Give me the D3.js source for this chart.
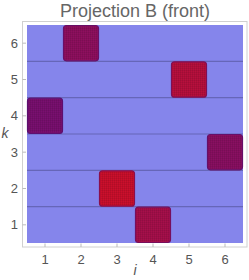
<!DOCTYPE html>
<html><head><meta charset="utf-8">
<script src="https://cdn.jsdelivr.net/npm/d3@7"></script>
<style>html,body{margin:0;padding:0;background:#fff;}svg{display:block;}</style>
</head><body>
<script>
const title = "Projection B (front)";
const iVals = [1, 2, 3, 4, 5, 6];
const kVals = [4, 6, 2, 1, 5, 3];
const shade = [0.0, 0.25, 1.0, 0.55, 0.75, 0.2];
const xTicks = [1, 2, 3, 4, 5, 6];
const yTicks = [1, 2, 3, 4, 5, 6];
const gridLines = [1.5, 2.5, 3.5, 4.5, 5.5];

const W = 249, H = 280;
const svg = d3.select("body").append("svg").attr("width", W).attr("height", H);
const x = d3.scaleLinear().domain([0.5, 6.5]).range([27, 243]);
const y = d3.scaleLinear().domain([0.5, 6.5]).range([243, 25]);
const col = d3.scaleLinear().domain([0, 1]).range(["#7a0f70", "#cc0f2c"]).interpolate(d3.interpolateRgb);

const defs = svg.append("defs");
const pat = defs.append("pattern").attr("id", "mesh").attr("width", 2).attr("height", 2).attr("patternUnits", "userSpaceOnUse");
pat.append("rect").attr("width", 1).attr("height", 2).attr("fill", "#000").attr("opacity", 0.08);
pat.append("rect").attr("width", 2).attr("height", 1).attr("fill", "#000").attr("opacity", 0.06);

const font = "Liberation Sans, Arial, sans-serif";
// title
svg.append("text").attr("x", 135).attr("y", 17).attr("text-anchor", "middle")
  .attr("font-family", font).attr("font-size", 18).attr("fill", "#666").text(title);

// frame
svg.append("rect").attr("x", 22.5).attr("y", 21.5).attr("width", 224.5).attr("height", 225.5)
  .attr("fill", "none").attr("stroke", "#d0d0d0").attr("stroke-width", 1);

// background
svg.append("rect").attr("x", x(0.5)).attr("y", y(6.5)).attr("width", x(6.5) - x(0.5)).attr("height", y(0.5) - y(6.5))
  .attr("fill", "#8585eb");

// grid lines
svg.selectAll("line.g").data(gridLines).enter().append("line")
  .attr("x1", x(0.5)).attr("x2", x(6.5)).attr("y1", d => y(d)).attr("y2", d => y(d))
  .attr("stroke", "#6666b8").attr("stroke-width", 1.2);

// squares
const data = iVals.map((v, idx) => ({i: v, k: kVals[idx], s: shade[idx]}));
const g = svg.append("g");
data.forEach(d => {
  const x0 = x(d.i - 0.5), x1 = x(d.i + 0.5), y0 = y(d.k + 0.5), y1 = y(d.k - 0.5);
  const c = col(d.s);
  g.append("rect").attr("x", x0 + 0.5).attr("y", y0 + 0.5).attr("width", x1 - x0 - 1).attr("height", y1 - y0 - 1)
    .attr("rx", 3).attr("fill", c).attr("stroke", d3.interpolateRgb(c, "#3a1070")(0.45)).attr("stroke-width", 1.2);
  g.append("rect").attr("x", x0 + 1.5).attr("y", y0 + 1.5).attr("width", x1 - x0 - 3).attr("height", y1 - y0 - 3)
    .attr("rx", 2).attr("fill", "url(#mesh)");
});

// ticks
svg.selectAll("line.xt").data(xTicks).enter().append("line")
  .attr("x1", d => x(d)).attr("x2", d => x(d)).attr("y1", 247).attr("y2", 243.5).attr("stroke", "#bbb");
svg.selectAll("line.yt").data(yTicks).enter().append("line")
  .attr("y1", d => y(d)).attr("y2", d => y(d)).attr("x1", 22.5).attr("x2", 26).attr("stroke", "#bbb");
svg.selectAll("text.xl").data(xTicks).enter().append("text")
  .attr("x", d => x(d)).attr("y", 264).attr("text-anchor", "middle")
  .attr("font-family", font).attr("font-size", 13).attr("fill", "#555").text(d => d);
svg.selectAll("text.yl").data(yTicks).enter().append("text")
  .attr("x", 18).attr("y", d => y(d) + 4.5).attr("text-anchor", "end")
  .attr("font-family", font).attr("font-size", 13).attr("fill", "#555").text(d => d);

// axis labels
svg.append("text").attr("x", 135).attr("y", 275).attr("text-anchor", "middle").attr("font-style", "italic")
  .attr("font-family", font).attr("font-size", 14).attr("fill", "#555").text("i");
svg.append("text").attr("x", 5).attr("y", 138).attr("text-anchor", "middle").attr("font-style", "italic")
  .attr("font-family", font).attr("font-size", 14).attr("fill", "#555").text("k");
</script>
</body></html>
